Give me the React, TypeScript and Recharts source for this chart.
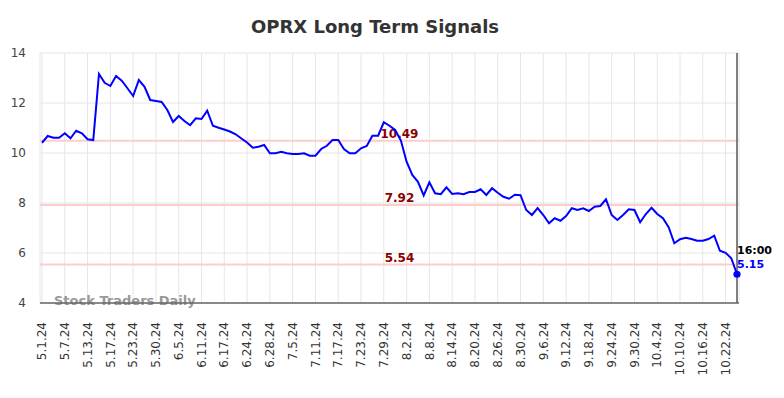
import React from "react";
import { LineChart, Line, XAxis, YAxis, CartesianGrid, ReferenceLine } from "recharts";

const title = "OPRX Long Term Signals";
const watermark = "Stock Traders Daily";
const lastTime = "16:00";

const dates = [
  "5.1.24", "5.2.24", "5.3.24", "5.6.24", "5.7.24", "5.8.24", "5.9.24", "5.10.24", "5.13.24", "5.14.24",
  "5.15.24", "5.16.24", "5.17.24", "5.20.24", "5.21.24", "5.22.24", "5.23.24", "5.24.24", "5.28.24", "5.29.24",
  "5.30.24", "5.31.24", "6.3.24", "6.4.24", "6.5.24", "6.6.24", "6.7.24", "6.10.24", "6.11.24", "6.12.24",
  "6.13.24", "6.14.24", "6.17.24", "6.18.24", "6.20.24", "6.21.24", "6.24.24", "6.25.24", "6.26.24", "6.27.24",
  "6.28.24", "7.1.24", "7.2.24", "7.3.24", "7.5.24", "7.8.24", "7.9.24", "7.10.24", "7.11.24", "7.12.24",
  "7.15.24", "7.16.24", "7.17.24", "7.18.24", "7.19.24", "7.22.24", "7.23.24", "7.24.24", "7.25.24", "7.26.24",
  "7.29.24", "7.30.24", "7.31.24", "8.1.24", "8.2.24", "8.5.24", "8.6.24", "8.7.24", "8.8.24", "8.9.24",
  "8.12.24", "8.13.24", "8.14.24", "8.15.24", "8.16.24", "8.19.24", "8.20.24", "8.21.24", "8.22.24", "8.23.24",
  "8.26.24", "8.27.24", "8.28.24", "8.29.24", "8.30.24", "9.3.24", "9.4.24", "9.5.24", "9.6.24", "9.9.24",
  "9.10.24", "9.11.24", "9.12.24", "9.13.24", "9.16.24", "9.17.24", "9.18.24", "9.19.24", "9.20.24", "9.23.24",
  "9.24.24", "9.25.24", "9.26.24", "9.27.24", "9.30.24", "10.1.24", "10.2.24", "10.3.24", "10.4.24", "10.7.24",
  "10.8.24", "10.9.24", "10.10.24", "10.11.24", "10.14.24", "10.15.24", "10.16.24", "10.17.24", "10.18.24", "10.21.24",
  "10.22.24", "10.23.24", "10.24.24",
];

const prices = [
  10.41, 10.68, 10.61, 10.61, 10.79, 10.59, 10.89, 10.79, 10.55, 10.52,
  13.16, 12.81, 12.68, 13.08, 12.89, 12.59, 12.28, 12.92, 12.65, 12.12,
  12.08, 12.04, 11.72, 11.24, 11.48, 11.28, 11.11, 11.39, 11.36, 11.69,
  11.09, 11.01, 10.94, 10.86, 10.75, 10.58, 10.42, 10.21, 10.25, 10.32,
  9.99, 9.99, 10.05, 9.99, 9.96, 9.96, 9.99, 9.89, 9.89, 10.16,
  10.29, 10.52, 10.52, 10.16, 9.99, 9.99, 10.19, 10.28, 10.69, 10.69,
  11.23, 11.09, 10.92, 10.5, 9.65, 9.12, 8.85, 8.3, 8.83, 8.39,
  8.35, 8.63, 8.36, 8.39, 8.35, 8.44, 8.44, 8.55, 8.32, 8.59,
  8.41, 8.25, 8.17, 8.33, 8.31, 7.72, 7.52, 7.8, 7.52, 7.19,
  7.39, 7.29, 7.48, 7.79, 7.72, 7.79, 7.68, 7.85, 7.88, 8.15,
  7.52, 7.32, 7.52, 7.75, 7.72, 7.23, 7.56, 7.81, 7.56, 7.39,
  7.03, 6.39, 6.55, 6.61, 6.56, 6.49, 6.49, 6.56, 6.69, 6.09,
  6.01, 5.79, 5.15,
];

const signalLevels = [10.49, 7.92, 5.54];
const yTicks = [4, 6, 8, 10, 12, 14];

const data = dates.map((d, i) => ({ date: d, price: prices[i] }));
const lastIndex = data.length - 1;
const font = "DejaVu Sans";

const DateTick = (props: any) => {
  const { x, y, payload } = props;
  return (
    <text
      transform={`translate(${x},${y + 19}) rotate(-90)`}
      textAnchor="end"
      dy="0.35em"
      fontSize={12}
      fontFamily={font}
      fill="#333"
    >
      {payload.value}
    </text>
  );
};

const LastDot = (props: any) => {
  const { cx, cy, index, value } = props;
  if (index !== lastIndex) return <g key={`d${index}`} />;
  return (
    <g key={`d${index}`}>
      <circle cx={cx} cy={cy} r={3.6} fill="#0000ff" />
      <text x={cx} y={cy - 20} fontSize={11} fontWeight="bold" fontFamily={font} fill="#000">
        {lastTime}
      </text>
      <text x={cx} y={cy - 6.5} fontSize={11} fontWeight="bold" fontFamily={font} fill="#0000ff">
        {Number(value).toFixed(2)}
      </text>
    </g>
  );
};

const levelLabel = (lv: number) => (props: any) => {
  const vb = props.viewBox;
  return (
    <text
      x={vb.x + vb.width / 2 + 10}
      y={vb.y - 3}
      textAnchor="middle"
      fontSize={12}
      fontWeight="bold"
      fontFamily={font}
      fill="#8b0000"
    >
      {lv.toFixed(2)}
    </text>
  );
};

export default function App() {
  return (
    <div style={{ position: "absolute", left: 0, top: 0, width: 784, height: 398, background: "#fff" }}>
      <LineChart
        width={784}
        height={398}
        data={data}
        margin={{ top: 53, right: 45, bottom: 0, left: 0 }}
        style={{ fontFamily: font }}
      >
        <text x={375} y={33} textAnchor="middle" fontSize={18} fontWeight="bold" fontFamily={font} fill="#333">
          {title}
        </text>
        <CartesianGrid stroke="#e6e6e6" />
        <XAxis
          dataKey="date"
          interval={3}
          height={95}
          padding={{ left: 2, right: 2 }}
          tickLine={false}
          tickSize={0}
          tickMargin={0}
          axisLine={{ stroke: "#666", strokeWidth: 1.5 }}
          tick={<DateTick />}
        />
        <YAxis
          width={40}
          domain={[4, 14]}
          ticks={yTicks}
          axisLine={false}
          tickLine={false}
          tickSize={0}
          tickMargin={14}
          tick={{ fontSize: 12, fill: "#444", fontFamily: font }}
        />
        {signalLevels.map((lv) => (
          <ReferenceLine key={lv} y={lv} stroke="#ffcccc" strokeWidth={2} label={levelLabel(lv)} />
        ))}
        <ReferenceLine x={dates[lastIndex]} stroke="#808080" strokeWidth={2} />
        <Line
          dataKey="price"
          stroke="#0000ff"
          strokeWidth={2}
          dot={LastDot}
          activeDot={false}
          isAnimationActive={false}
        />
        <text x={54} y={305} fontSize={13} fontWeight="bold" fontFamily={font} fill="#999">
          {watermark}
        </text>
      </LineChart>
    </div>
  );
}
